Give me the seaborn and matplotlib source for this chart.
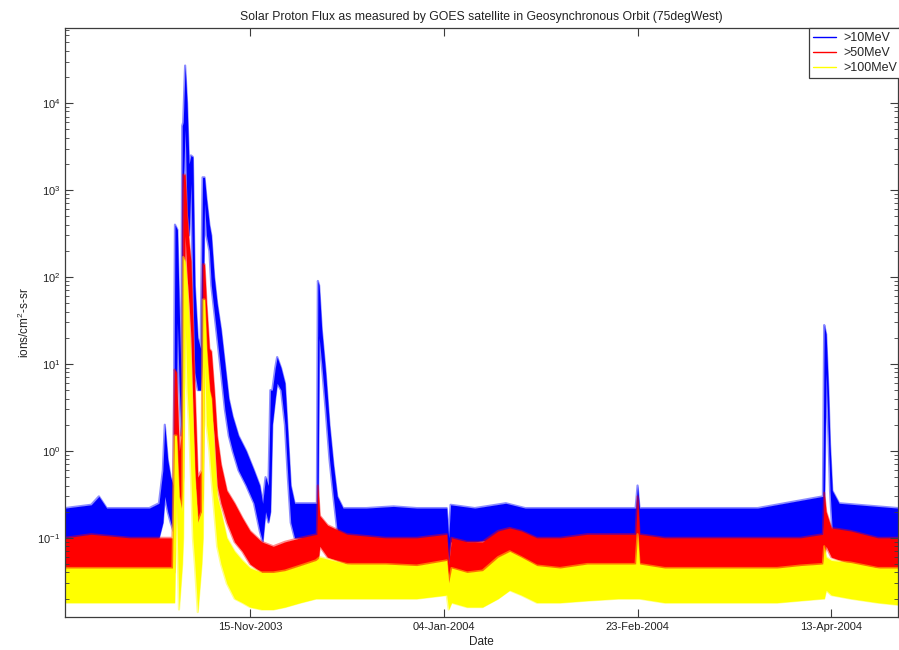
import matplotlib
matplotlib.use("Agg")
import matplotlib.pyplot as plt
import matplotlib.dates as mdates
from matplotlib.lines import Line2D
from matplotlib.ticker import LogLocator, NullFormatter
import pandas as pd
import seaborn as sns

# ---------------- data (envelopes of the noisy traces) -------------
series_names = [">10MeV", ">50MeV", ">100MeV"]
series_colors = ["#0000ff", "#ff0000", "#ffff00"]

p10_dates = ["2003-09-28 06:00", "2003-10-05", "2003-10-07", "2003-10-09", "2003-10-15", "2003-10-20",
             "2003-10-22 12:00", "2003-10-23 12:00", "2003-10-24 00:00", "2003-10-24 18:00",
             "2003-10-25 12:00", "2003-10-26 06:00", "2003-10-26 15:00", "2003-10-27 06:00",
             "2003-10-27 18:00", "2003-10-28 06:00", "2003-10-28 12:00", "2003-10-28 18:00",
             "2003-10-29 06:00", "2003-10-29 18:00", "2003-10-30 06:00", "2003-10-30 18:00",
             "2003-10-31 06:00", "2003-10-31 18:00", "2003-11-01 12:00", "2003-11-02 06:00",
             "2003-11-02 18:00", "2003-11-03 06:00", "2003-11-03 18:00", "2003-11-04 12:00",
             "2003-11-05 00:00", "2003-11-05 18:00", "2003-11-06 12:00", "2003-11-07 12:00",
             "2003-11-08 12:00", "2003-11-09 12:00", "2003-11-10 12:00", "2003-11-12", "2003-11-14",
             "2003-11-16", "2003-11-17 12:00", "2003-11-18 06:00", "2003-11-19 00:00",
             "2003-11-19 18:00", "2003-11-20 06:00", "2003-11-20 18:00", "2003-11-21 12:00",
             "2003-11-22", "2003-11-23", "2003-11-24", "2003-11-24 18:00", "2003-11-25 12:00",
             "2003-11-26 12:00", "2003-12-02 06:00", "2003-12-02 12:00", "2003-12-02 20:00",
             "2003-12-03 12:00", "2003-12-04 12:00", "2003-12-05 12:00", "2003-12-06 12:00",
             "2003-12-07 12:00", "2003-12-09", "2003-12-15", "2003-12-22", "2003-12-28",
             "2004-01-04 18:00", "2004-01-05 06:00", "2004-01-05 18:00", "2004-01-12", "2004-01-20",
             "2004-01-25", "2004-02-05", "2004-02-22 12:00", "2004-02-23 00:00", "2004-02-23 12:00",
             "2004-03-10", "2004-03-25", "2004-04-10 20:00", "2004-04-11 04:00", "2004-04-11 16:00",
             "2004-04-12 06:00", "2004-04-12 16:00", "2004-04-13 06:00", "2004-04-15", "2004-04-30 05:00"]
p10_lo = [0.09, 0.09, 0.09, 0.09, 0.09, 0.09,
          0.10, 0.15, 0.3, 0.2,
          0.15, 0.12, 0.2, 30,
          5, 1.5, 1.5, 1000,
          5000, 600, 300, 1200,
          70, 8, 5, 5,
          10, 700, 300, 200,
          80, 40, 20, 8,
          3, 1.5, 1.0, 0.6, 0.4,
          0.25, 0.12, 0.09, 0.2,
          0.15, 0.2, 2, 4,
          6, 5, 2, 0.5, 0.15,
          0.1, 0.1, 0.1, 20,
          10, 3, 0.8, 0.3,
          0.12, 0.1, 0.09, 0.09, 0.09,
          0.09, 0.05, 0.09, 0.09, 0.1,
          0.09, 0.09, 0.09, 0.1, 0.09,
          0.09, 0.09, 0.1, 0.2, 8,
          1.5, 0.35, 0.12, 0.1, 0.09]
p10_hi = [0.22, 0.24, 0.30, 0.22, 0.22, 0.22,
          0.25, 0.6, 2.0, 0.8,
          0.5, 0.4, 400, 350,
          40, 6, 5500, 6000,
          27000, 10000, 2000, 2500,
          2400, 80, 20, 15,
          1400, 1400, 800, 400,
          300, 100, 50, 25,
          10, 4, 2.5, 1.5, 1.0,
          0.6, 0.4, 0.25, 0.5,
          0.4, 5, 5, 9,
          12, 9, 6, 1.6, 0.4,
          0.25, 0.25, 90, 80,
          25, 8, 2, 0.7,
          0.3, 0.22, 0.22, 0.23, 0.22,
          0.22, 0.1, 0.24, 0.22, 0.25,
          0.22, 0.22, 0.22, 0.4, 0.22,
          0.22, 0.22, 0.3, 28, 22,
          5, 1.2, 0.35, 0.25, 0.22]

p50_dates = ["2003-09-28 06:00", "2003-10-05", "2003-10-15", "2003-10-22", "2003-10-26 00:00",
             "2003-10-26 12:00", "2003-10-27 00:00", "2003-10-27 18:00", "2003-10-28 12:00",
             "2003-10-28 18:00", "2003-10-29 06:00", "2003-10-29 18:00", "2003-10-30 06:00",
             "2003-10-30 18:00", "2003-10-31 06:00", "2003-10-31 18:00", "2003-11-01 12:00",
             "2003-11-02 12:00", "2003-11-02 20:00", "2003-11-03 06:00", "2003-11-03 18:00",
             "2003-11-04 12:00", "2003-11-05 00:00", "2003-11-05 18:00", "2003-11-06 12:00",
             "2003-11-07 12:00", "2003-11-09", "2003-11-11", "2003-11-13", "2003-11-15",
             "2003-11-18", "2003-11-21", "2003-11-24", "2003-11-28", "2003-12-02 06:00",
             "2003-12-02 12:00", "2003-12-03", "2003-12-05", "2003-12-10", "2003-12-20",
             "2003-12-28", "2004-01-04 18:00", "2004-01-05 06:00", "2004-01-06", "2004-01-10",
             "2004-01-14", "2004-01-18", "2004-01-21", "2004-01-24", "2004-01-28", "2004-02-03",
             "2004-02-10", "2004-02-18", "2004-02-22 12:00", "2004-02-23 00:00",
             "2004-02-23 12:00", "2004-03-01", "2004-03-10", "2004-03-20", "2004-03-30",
             "2004-04-05", "2004-04-10 20:00", "2004-04-11 04:00", "2004-04-11 16:00",
             "2004-04-13", "2004-04-18", "2004-04-25", "2004-04-30 05:00"]
p50_lo = [0.04, 0.04, 0.04, 0.04, 0.04,
          0.04, 1.5, 0.1, 0.3,
          0.5, 300, 100, 50,
          20, 3, 0.5, 0.15,
          0.2, 0.3, 30, 10,
          5, 3, 1.5, 0.4,
          0.25, 0.15, 0.09, 0.07, 0.05,
          0.04, 0.035, 0.04, 0.045, 0.05,
          0.05, 0.08, 0.06, 0.05, 0.045,
          0.045, 0.05, 0.03, 0.04, 0.035,
          0.035, 0.05, 0.055, 0.05, 0.04, 0.04,
          0.045, 0.045, 0.05, 0.05,
          0.05, 0.04, 0.04, 0.04, 0.04,
          0.045, 0.05, 0.06, 0.08,
          0.06, 0.05, 0.045, 0.04]
p50_hi = [0.10, 0.11, 0.10, 0.10, 0.10,
          8.6, 8, 1.0, 2,
          1500, 1500, 500, 250,
          150, 30, 5, 0.5,
          0.6, 140, 140, 50,
          15, 14, 5, 1.5,
          0.7, 0.35, 0.25, 0.17, 0.12,
          0.09, 0.08, 0.09, 0.10, 0.11,
          0.4, 0.18, 0.14, 0.11, 0.10,
          0.10, 0.11, 0.05, 0.10, 0.09,
          0.09, 0.12, 0.13, 0.12, 0.10, 0.10,
          0.11, 0.11, 0.11, 0.30,
          0.11, 0.10, 0.10, 0.10, 0.10,
          0.10, 0.11, 0.33, 0.20,
          0.13, 0.12, 0.10, 0.10]

p100_dates = ["2003-09-28 06:00", "2003-10-10", "2003-10-22", "2003-10-26 00:00", "2003-10-26 12:00",
              "2003-10-27 00:00", "2003-10-27 16:00", "2003-10-28 12:00", "2003-10-28 18:00",
              "2003-10-29 06:00", "2003-10-29 18:00", "2003-10-30 06:00", "2003-10-30 18:00",
              "2003-10-31 06:00", "2003-10-31 18:00", "2003-11-01 12:00", "2003-11-02 12:00",
              "2003-11-02 20:00", "2003-11-03 06:00", "2003-11-03 18:00", "2003-11-04 12:00",
              "2003-11-05 00:00", "2003-11-05 18:00", "2003-11-06 12:00", "2003-11-07 12:00",
              "2003-11-09", "2003-11-11", "2003-11-13", "2003-11-15", "2003-11-18", "2003-11-21",
              "2003-11-24", "2003-11-28", "2003-12-02", "2003-12-03", "2003-12-10", "2003-12-20",
              "2003-12-28", "2004-01-04 18:00", "2004-01-05 06:00", "2004-01-06", "2004-01-10",
              "2004-01-14", "2004-01-18", "2004-01-21", "2004-01-24", "2004-01-28", "2004-02-03",
              "2004-02-10", "2004-02-18", "2004-02-22 12:00", "2004-02-23 00:00",
              "2004-02-23 12:00", "2004-03-01", "2004-03-10", "2004-03-20", "2004-03-30",
              "2004-04-05", "2004-04-10 20:00", "2004-04-11 04:00", "2004-04-11 16:00",
              "2004-04-13", "2004-04-18", "2004-04-25", "2004-04-30 05:00"]
p100_lo = [0.018, 0.018, 0.018, 0.018, 0.018,
           0.3, 0.015, 0.05, 0.1,
           30, 5, 2, 0.5,
           0.1, 0.05, 0.014, 0.05,
           0.1, 10, 2, 1,
           0.5, 0.2, 0.08, 0.05,
           0.03, 0.02, 0.018, 0.016, 0.015, 0.015,
           0.016, 0.018, 0.02, 0.02, 0.02, 0.02,
           0.02, 0.022, 0.015, 0.018, 0.016,
           0.016, 0.02, 0.025, 0.022, 0.018, 0.018,
           0.019, 0.02, 0.02, 0.02,
           0.02, 0.018, 0.018, 0.018, 0.018,
           0.019, 0.02, 0.02, 0.025,
           0.022, 0.02, 0.018, 0.017]
p100_hi = [0.045, 0.045, 0.045, 0.045, 1.5,
           1.5, 0.3, 0.2, 170,
           150, 80, 30, 10,
           2, 0.5, 0.15, 0.2,
           55, 55, 15, 5,
           4, 1, 0.3, 0.2,
           0.10, 0.07, 0.055, 0.045, 0.04, 0.04,
           0.042, 0.048, 0.055, 0.06, 0.05, 0.05,
           0.048, 0.055, 0.03, 0.045, 0.04,
           0.042, 0.06, 0.07, 0.06, 0.048, 0.045,
           0.05, 0.05, 0.05, 0.11,
           0.05, 0.045, 0.045, 0.045, 0.045,
           0.048, 0.05, 0.08, 0.06,
           0.055, 0.052, 0.045, 0.045]

tick_dates = ["2003-11-15", "2004-01-04", "2004-02-23", "2004-04-13"]
x_start, x_end = "2003-09-28 06:00", "2004-04-30 05:00"
y_min, y_max = 0.0123, 7.3e4

# ---------------- styling ----------------
sns.set_theme(style="white")
plt.rcParams['font.family'] = ['Liberation Sans', 'DejaVu Sans']
plt.rcParams['mathtext.fontset'] = 'custom'
plt.rcParams['mathtext.rm'] = 'Liberation Sans'
plt.rcParams['mathtext.it'] = 'Liberation Sans:italic'
plt.rcParams['mathtext.bf'] = 'Liberation Sans:bold'

axis_grey = "#3c3c3c"
text_col = "#222222"
fig = plt.figure(figsize=(8.99, 6.5), dpi=100)
ax = fig.add_axes([65 / 899, 1 - 617 / 650, (898 - 65) / 899, (617 - 28) / 650])
ax.set_yscale("log")

all_dates = [p10_dates, p50_dates, p100_dates]
all_lo = [p10_lo, p50_lo, p100_lo]
all_hi = [p10_hi, p50_hi, p100_hi]
handles = []
for i, (name, col, d, lo, hi) in enumerate(zip(series_names, series_colors, all_dates, all_lo, all_hi)):
    z = 1.0 + 0.3 * i
    dd = pd.to_datetime(d, format="mixed")
    df = pd.DataFrame({"date": dd, "lo": lo, "hi": hi})
    ax.fill_between(df["date"], df["lo"], df["hi"], color=col, lw=0, zorder=z)
    sns.lineplot(data=df, x="date", y="hi", color=col, lw=1.6, alpha=0.45, ax=ax,
                 legend=False, zorder=z + 0.1)
    sns.lineplot(data=df, x="date", y="lo", color=col, lw=1.6, alpha=0.45, ax=ax,
                 legend=False, zorder=z + 0.1)
    handles.append(Line2D([0], [0], color=col, lw=1.0, label=name))

ax.set_axisbelow(False)
ax.set_xlim(pd.Timestamp(x_start), pd.Timestamp(x_end))
ax.set_ylim(y_min, y_max)

ax.set_xticks(pd.to_datetime(tick_dates))
ax.xaxis.set_major_formatter(mdates.DateFormatter("%d-%b-%Y"))
ax.yaxis.set_major_locator(LogLocator(base=10, numticks=20))
ax.yaxis.set_minor_locator(LogLocator(base=10, subs=range(2, 10), numticks=100))
ax.yaxis.set_minor_formatter(NullFormatter())

ax.tick_params(which="both", direction="in", top=True, right=True, bottom=True, left=True,
               colors=axis_grey, labelcolor=text_col, labelsize=8)
ax.tick_params(which="major", length=6, width=0.8)
ax.tick_params(which="minor", length=3, width=0.6)
for s in ax.spines.values():
    s.set_color(axis_grey)
    s.set_linewidth(0.9)
    s.set_zorder(5)

ax.set_title("Solar Proton Flux as measured by GOES satellite in Geosynchronous Orbit (75degWest)",
             fontsize=8.8, color=text_col, pad=6)
ax.set_xlabel("Date", fontsize=8.5, color=text_col, labelpad=3)
ax.set_ylabel("ions/cm$^2$-s-sr", fontsize=8.5, color=text_col, labelpad=4)

leg = ax.legend(handles=handles, loc="upper left", bbox_to_anchor=((809 - 65) / (898 - 65), 1.0),
                fontsize=9, frameon=True, fancybox=False, framealpha=1, borderpad=0.35,
                handlelength=1.8, handletextpad=0.6, labelspacing=0.22, borderaxespad=0)
leg.get_frame().set_edgecolor(axis_grey)
leg.get_frame().set_linewidth(0.9)
leg.set_zorder(10)

fig.savefig("out.png", dpi=100)
